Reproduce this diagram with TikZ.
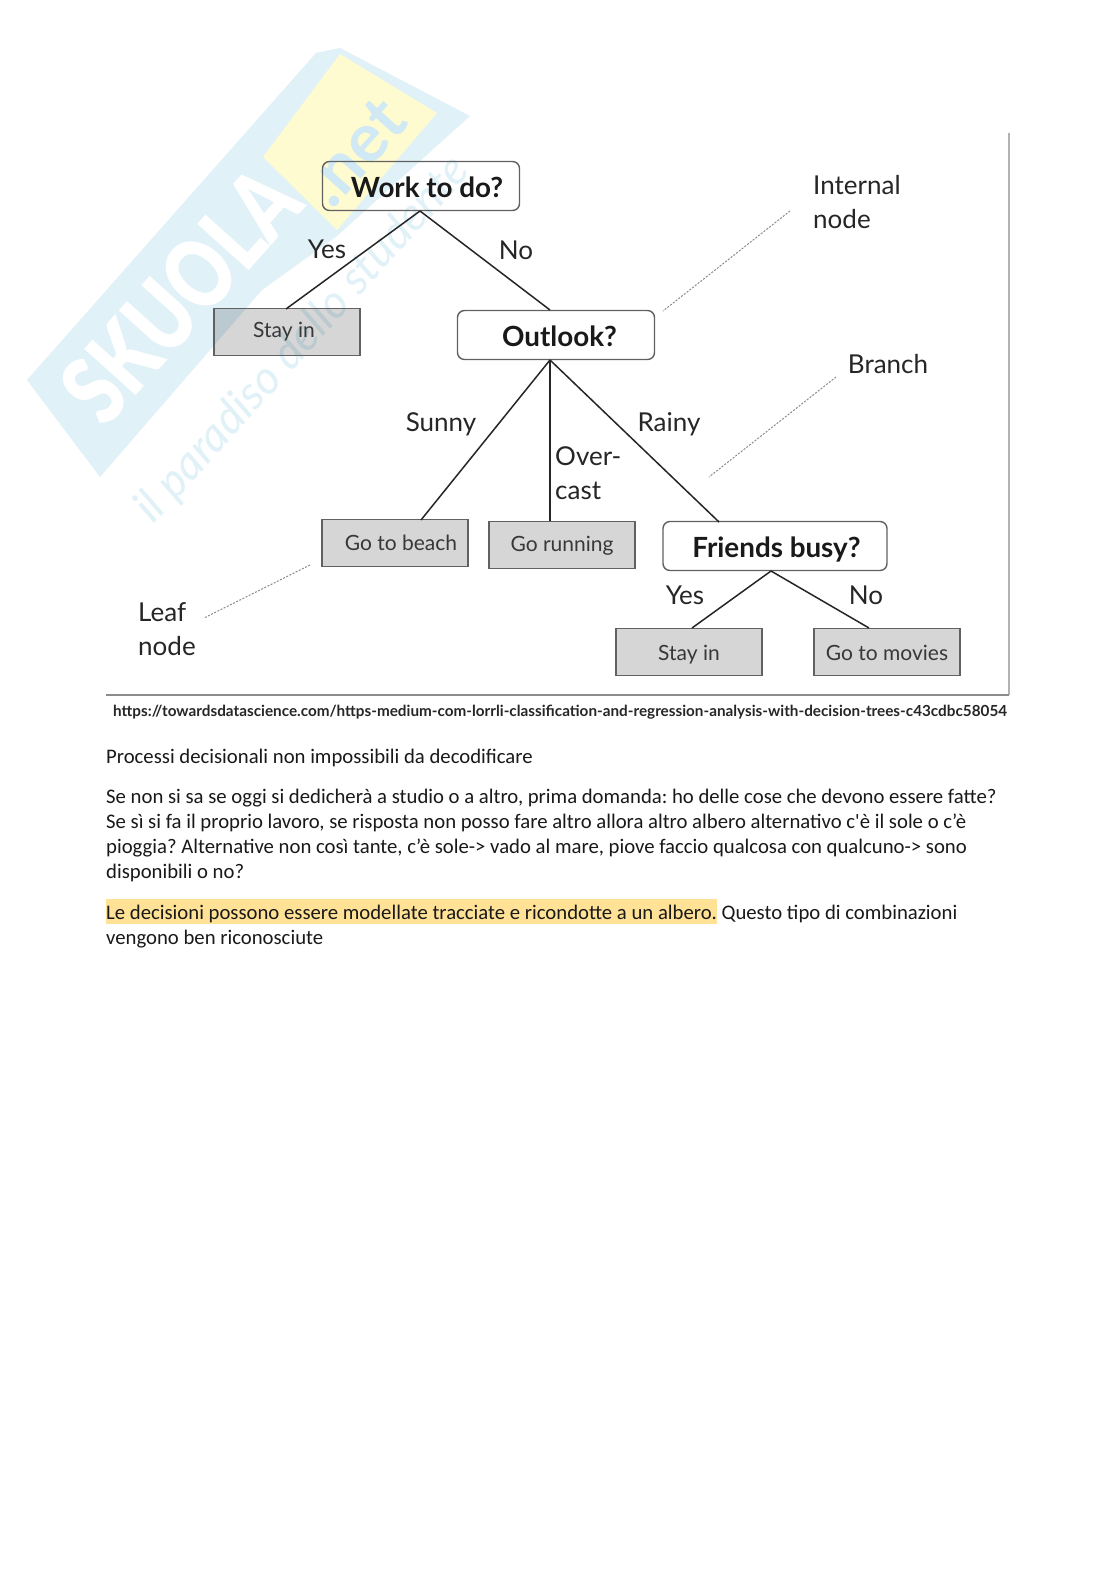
\documentclass[tikz,border=0pt]{standalone}
\usepackage{fontspec}
\newfontfamily\bodyfont{Carlito}
\newfontfamily\figfont{Lato}
\definecolor{wmblue}{RGB}{224,241,248}
\definecolor{wmblued}{RGB}{208,233,245}
\definecolor{wmyellow}{RGB}{255,251,208}
\definecolor{hl}{RGB}{255,226,150}
\newcommand{\shifted}[3]{\raisebox{-#2pt}[0pt][0pt]{\hspace{#1pt}#3}}
\begin{document}
\frenchspacing
\begin{tikzpicture}[x=1pt,y=-1pt,
  inner/.style={draw=black!62,line width=1.4pt,rounded corners=7pt,inner sep=0pt,font=\figfont\bfseries\fontsize{27.8}{28}\selectfont\color{black!90}},
  leaf/.style={draw=black!62,line width=1.5pt,fill=black,fill opacity=.16,text opacity=1,inner sep=0pt,font=\figfont\fontsize{21}{21}\selectfont\color{black!78}},
  branch/.style={draw=black!85,line width=1.5pt},
  lbl/.style={font=\figfont\fontsize{26}{34.5}\selectfont\color{black!85},align=left,inner sep=0pt},
  note/.style={draw=black!45,line width=1pt,dash pattern=on 2pt off 1.5pt},
  body/.style={anchor=base west,inner sep=0pt,font=\bodyfont\fontsize{20.72}{25}\selectfont\color{black!90}}]
\useasboundingbox (0,0) rectangle (1116,1579);
\fill[white] (0,0) rectangle (1116,1579);
% watermark
\fill[wmblue] (27,380) -- (316,53) -- (340,48) -- (470,116) -- (337,236) -- (262,290) -- (100,477) -- cycle;
\fill[wmyellow] (340,54) -- (437,113) -- (337,230) -- (263,157) -- cycle;
\node[rotate=48,white,font=\fontspec{Lato Black}\fontsize{95}{95}\selectfont,inner sep=0pt] (wm1) at (180,295) {\scalebox{.78}[1]{SKUOLA}};
\node[rotate=48,wmblued,font=\fontspec{Lato Bold}\fontsize{68}{68}\selectfont,inner sep=0pt] (wm2) at (355,152) {.net};
\node[rotate=48,wmblue,font=\fontspec{Lato}\fontsize{46}{46}\selectfont\itshape,inner sep=0pt] (wm3) at (303,340) {il paradiso dello studente};
% frame
\draw[black!30,line width=1.2pt] (1009,133) -- (1009,695);
\draw[black!45,line width=1.6pt] (106,695) -- (1009,695);
% nodes
\node[inner,minimum width=197pt,minimum height=49pt] (work) at (421,186) {\shifted{12}{11}{Work to do?}};
\node[inner,fill=white,minimum width=197pt,minimum height=49pt] (out) at (556,335) {\shifted{7}{11}{Outlook?}};
\node[inner,fill=white,minimum width=224pt,minimum height=49pt] (fri) at (775,546) {\shifted{3}{11}{Friends busy?}};
\node[leaf,minimum width=146pt,minimum height=47pt] (s1) at (287,332) {\shifted{-6}{5}{Stay in}};
\node[leaf,minimum width=146pt,minimum height=47pt] (beach) at (395,543) {\shifted{12}{7}{Go to beach}};
\node[leaf,minimum width=146pt,minimum height=47pt] (run) at (562,545) {\shifted{0}{6}{Go running}};
\node[leaf,minimum width=146pt,minimum height=47pt] (s2) at (689,652) {\shifted{0}{8}{Stay in}};
\node[leaf,minimum width=146pt,minimum height=47pt] (mov) at (887,652) {\shifted{0}{8}{Go to movies}};
% branches
\coordinate (w0) at (420,211);
\coordinate (o0) at (550,360);
\coordinate (f0) at (771,571);
\draw[branch] (w0) -- (286,309);
\draw[branch] (w0) -- (550,310);
\draw[branch] (o0) -- (421,520);
\draw[branch] (o0) -- (550,521);
\draw[branch] (o0) -- (719,522);
\draw[branch] (f0) -- (692,628);
\draw[branch] (f0) -- (869,628);
% labels
\node[lbl] (yes1) at (327,249) {Yes};
\node[lbl] (no1) at (516,250) {No};
\node[lbl] (sunny) at (441,424) {Sunny};
\node[lbl,anchor=north west] (over) at (555,446) {Over-\\cast};
\node[lbl] (rainy) at (669,424) {Rainy};
\node[lbl] (yes2) at (685,595) {Yes};
\node[lbl] (no2) at (866,595) {No};
\node[lbl,anchor=north west] (int) at (813,175) {Internal\\node};
\node[lbl] (br) at (888,364) {Branch};
\node[lbl,anchor=north west] (lf) at (138,602) {Leaf\\node};
% notes
\coordinate (n1) at (790,211);
\coordinate (n2) at (663,311);
\coordinate (n3) at (836,377);
\coordinate (n4) at (709,477);
\coordinate (n5) at (310,565);
\coordinate (n6) at (204,618);
\draw[note] (n1) -- (n2);
\draw[note] (n3) -- (n4);
\draw[note] (n5) -- (n6);
% source
\node[anchor=base west,inner sep=0pt,font=\figfont\bfseries\fontsize{15.27}{15.3}\selectfont\color{black!85}] (src) at (113,716) {https://towardsdatascience.com/https-medium-com-lorrli-classification-and-regression-analysis-with-decision-trees-c43cdbc58054};
% body
\fill[hl] (106,899) rectangle (717,924);
\node[body] (t1) at (106,763) {Processi decisionali non impossibili da decodificare};
\node[body] (t2) at (106,803) {Se non si sa se oggi si dedicherà a studio o a altro, prima domanda: ho delle cose che devono essere fatte?};
\node[body] (t3) at (106,828) {Se sì si fa il proprio lavoro, se risposta non posso fare altro allora altro albero alternativo c'è il sole o c’è};
\node[body] (t4) at (106,853) {pioggia? Alternative non così tante, c’è sole-> vado al mare, piove faccio qualcosa con qualcuno-> sono};
\node[body] (t5) at (106,878) {disponibili o no?};
\node[body] (t6) at (106,919) {Le decisioni possono essere modellate tracciate e ricondotte a un albero. Questo tipo di combinazioni};
\node[body] (t7) at (106,944) {vengono ben riconosciute};
\end{tikzpicture}
\end{document}
